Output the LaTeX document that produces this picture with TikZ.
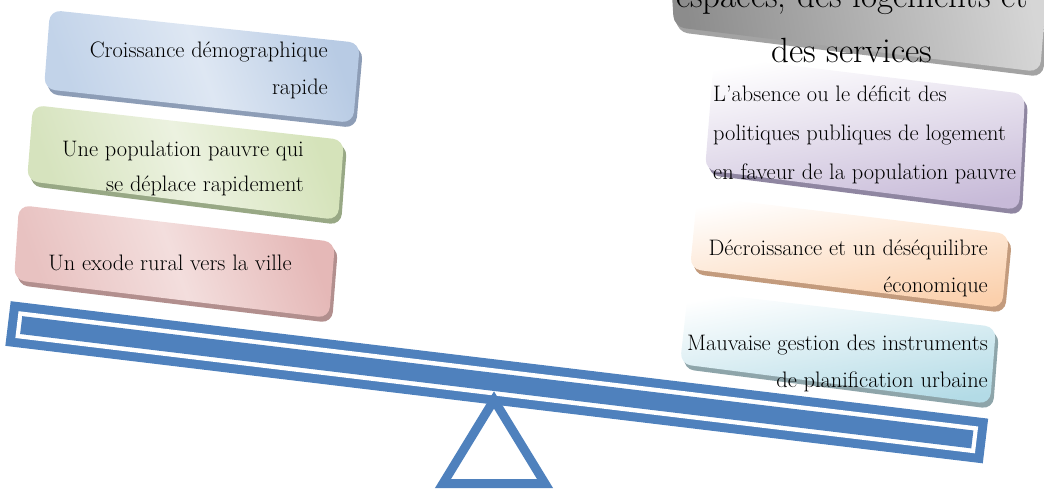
\documentclass[tikz,border=0pt]{standalone}
\usepackage{fontspec}
\definecolor{beamblue}{HTML}{4F81BD}
\definecolor{blueL}{HTML}{C2D3E9}
\definecolor{blueM}{HTML}{DEE7F3}
\definecolor{blueR}{HTML}{B8CBE4}
\definecolor{blueS}{HTML}{8D9DB6}
\definecolor{greenL}{HTML}{D6E3BE}
\definecolor{greenM}{HTML}{ECF2E0}
\definecolor{greenR}{HTML}{D5E3BA}
\definecolor{greenS}{HTML}{98A885}
\definecolor{pinkL}{HTML}{E8C2C1}
\definecolor{pinkM}{HTML}{F3DEDD}
\definecolor{pinkR}{HTML}{E5B8B7}
\definecolor{pinkS}{HTML}{B28F8E}
\definecolor{purpleB}{HTML}{C7BAD8}
\definecolor{purpleS}{HTML}{8F86A1}
\definecolor{orangeB}{HTML}{FBD0AC}
\definecolor{orangeS}{HTML}{C39B7D}
\definecolor{cyanB}{HTML}{B3DBE6}
\definecolor{cyanS}{HTML}{8EA5AA}
\definecolor{grayL}{HTML}{8C8C8C}
\definecolor{grayR}{HTML}{D6D6D6}
\definecolor{grayS}{HTML}{A3A3A3}
\tikzset{
  card/.style={rounded corners=11pt},
  cardshadow/.style={rounded corners=11pt, shift={(3,5)}},
  txt/.style={inner sep=0pt, font=\fontsize{22.4}{27}\selectfont},
  bigtxt/.style={inner sep=0pt, font=\fontsize{35}{40}\selectfont},
  fulcrum/.style={draw=beamblue, line width=9pt, miter limit=10},
}
\begin{document}
\begin{tikzpicture}[x=1pt, y=-1pt]
\useasboundingbox (0,0) rectangle (1044,489);
\clip (0,0) rectangle (1044,489);
% beam
\begin{scope}[shift={(496.75,382.25)}, rotate=-6.854]
  \fill[beamblue] (-492.25,-22.5) rectangle (492.25,22.5);
  \fill[white] (-483.25,-13.5) rectangle (483.25,13.5);
  \fill[beamblue] (-479,-9) rectangle (479,9);
\end{scope}
% fulcrum
\draw[fulcrum] (494,400) -- (545,483.5) -- (443,483.5) -- cycle;
% gray box (top right)
\fill[grayS, cardshadow] (668,-70) -- (1048,-25) -- (1040,72) -- (674,27) -- cycle;
\shade[card, left color=grayL, right color=grayR, shading angle=100] (668,-70) -- (1048,-25) -- (1040,72) -- (674,27) -- cycle;
% blue box
\fill[blueS, cardshadow] (50,10) -- (360,43) -- (353,123) -- (44,89) -- cycle;
\shade[card, left color=blueL, right color=blueR, middle color=blueM, shading angle=110] (50,10) -- (360,43) -- (353,123) -- (44,89) -- cycle;
% green box
\fill[greenS, cardshadow] (33,105) -- (344,140) -- (338,220) -- (27,181) -- cycle;
\shade[card, left color=greenL, right color=greenR, middle color=greenM, shading angle=110] (33,105) -- (344,140) -- (338,220) -- (27,181) -- cycle;
% pink box
\fill[pinkS, cardshadow] (19,205) -- (335,242) -- (329,318) -- (14,280) -- cycle;
\shade[card, left color=pinkL, right color=pinkR, middle color=pinkM, shading angle=110] (19,205) -- (335,242) -- (329,318) -- (14,280) -- cycle;
% purple box
\fill[purpleS, cardshadow] (714,56) -- (1025,94) -- (1019,210) -- (705,170) -- cycle;
\shade[card, top color=white, bottom color=purpleB, shading angle=10] (714,56) -- (1025,94) -- (1019,210) -- (705,170) -- cycle;
% orange box
\fill[orangeS, cardshadow] (697,196) -- (1009,234) -- (1002,308) -- (690,269) -- cycle;
\shade[card, top color=white, bottom color=orangeB, shading angle=10] (697,196) -- (1009,234) -- (1002,308) -- (690,269) -- cycle;
% cyan box
\fill[cyanS, cardshadow] (688,291) -- (996,327) -- (990,404) -- (680,364) -- cycle;
\shade[card, top color=white, bottom color=cyanB, shading angle=10] (688,291) -- (996,327) -- (990,404) -- (680,364) -- cycle;
% texts
\node[txt, anchor=base east] (t1a) at (328,58) {Croissance démographique};
\node[txt, anchor=base east] (t1b) at (328,95) {rapide};
\node[txt, anchor=base east] (t2a) at (304,157) {Une population pauvre qui};
\node[txt, anchor=base east] (t2b) at (304,192) {se déplace rapidement};
\node[txt, anchor=base] (t3a) at (170,270) {Un exode rural vers la ville};
\node[txt, anchor=base west] (t4a) at (713,102) {L’absence ou le déficit des};
\node[txt, anchor=base west] (t4b) at (713,141) {politiques publiques de logement};
\node[txt, anchor=base west] (t4c) at (713,180) {en faveur de la population pauvre};
\node[txt, anchor=base east] (t5a) at (988,255) {Décroissance et un déséquilibre};
\node[txt, anchor=base east] (t5b) at (988,292) {économique};
\node[txt, anchor=base east] (t6a) at (988,350) {Mauvaise gestion des instruments};
\node[txt, anchor=base east] (t6b) at (988,387) {de planification urbaine};
\node[bigtxt, anchor=base] (t7a) at (852,8) {espaces, des logements et};
\node[bigtxt, anchor=base] (t7b) at (852,63) {des services};
\end{tikzpicture}
\end{document}
